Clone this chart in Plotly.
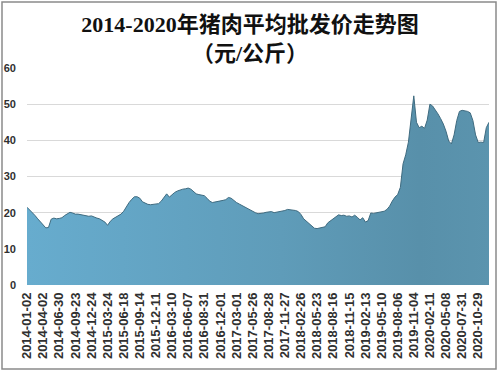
import plotly.graph_objects as go

# Pork average wholesale price (yuan/kg), sampled every ~10 trading days
prices = [
    21.5, 20.8, 20.0, 19.2, 18.3, 17.5, 16.5, 15.8, 15.9, 18.2,
    18.5, 18.3, 18.4, 18.6, 19.2, 19.6, 20.1, 19.9, 19.6, 19.6,
    19.4, 19.3, 19.2, 19.0, 19.1, 18.7, 18.5, 18.3, 17.9, 17.4,
    16.5, 17.6, 18.3, 18.8, 19.2, 19.6, 20.4, 21.7, 22.8, 23.7,
    24.4, 24.4, 24.0, 23.0, 22.6, 22.3, 22.2, 22.3, 22.4, 22.5,
    23.2, 24.3, 25.2, 24.3, 25.0, 25.6, 26.0, 26.3, 26.5, 26.6,
    26.8, 26.5, 25.9, 25.2, 25.0, 24.9, 24.7, 24.0, 23.2, 22.8,
    22.9, 23.0, 23.2, 23.4, 23.6, 24.2, 24.0, 23.3, 22.8, 22.4,
    22.0, 21.6, 21.0, 20.6, 20.3, 20.0, 19.7, 19.7, 19.9, 20.1,
    20.2, 20.3, 20.0, 20.1, 20.2, 20.4, 20.6, 20.9, 20.8, 20.8,
    20.6, 20.3, 19.5, 18.3, 17.6, 17.0, 16.3, 15.7, 15.6, 15.8,
    15.9, 16.1, 17.2, 17.8, 18.4, 19.0, 19.4, 19.2, 19.3, 19.0,
    19.1, 18.8, 19.3, 18.7, 18.0, 18.6, 17.4, 17.8, 19.9, 19.8,
    20.0, 20.2, 20.3, 20.4, 20.9, 21.8, 23.2, 24.3, 25.0, 27.0,
    33.5, 36.0, 39.5, 45.7, 52.3, 45.0, 43.5, 43.9, 43.3, 45.6,
    50.0, 49.5, 48.5, 47.3, 46.0, 44.5, 42.5, 39.8, 39.0, 41.5,
    45.5, 48.0, 48.3, 48.2, 48.0, 47.6, 45.5, 41.5, 39.4, 39.5,
    39.4, 43.5, 45.0,
]

tick_labels = [
    "2014-01-02", "2014-04-02", "2014-06-30", "2014-09-23", "2014-12-24",
    "2015-03-24", "2015-06-18", "2015-09-14", "2015-12-11", "2016-03-10",
    "2016-06-07", "2016-08-31", "2016-12-01", "2017-03-01", "2017-05-26",
    "2017-08-28", "2017-11-27", "2018-02-26", "2018-05-23", "2018-08-16",
    "2018-11-15", "2019-02-13", "2019-05-10", "2019-08-06", "2019-11-04",
    "2020-02-11", "2020-05-08", "2020-07-31", "2020-10-29",
]
points_per_tick = 6

x_idx = list(range(len(prices)))
tick_pos = [k * points_per_tick for k in range(len(tick_labels))]

fig = go.Figure()
fig.add_trace(go.Scatter(
    x=x_idx, y=prices, mode="lines", fill="tozeroy",
    line=dict(color="#3f6b80", width=1),
    fillgradient=dict(type="horizontal",
                      colorscale=[[0, "#67acce"], [0.55, "#5f9cb9"], [0.85, "#5890aa"], [1, "#5b94ae"]]),
    hoverinfo="skip",
))

L, R, T, B = 27, 489, 68, 285
W, H = 500, 375
pw, ph = R - L, B - T

fig.update_layout(
    width=W, height=H,
    margin=dict(l=L, r=W - R, t=T, b=H - B),
    paper_bgcolor="white", plot_bgcolor="white",
    showlegend=False,
    title=dict(
        text="2014-2020年猪肉平均批发价走势图<br>（元/公斤）",
        x=0.5, xanchor="center", y=1 - 32 / H, yanchor="middle",
        font=dict(family="Liberation Serif, Noto Sans CJK SC", size=22, color="#111111", weight="bold"),
    ),
    xaxis=dict(
        range=[0, len(prices) - 1], tickmode="array", tickvals=tick_pos, ticktext=tick_labels,
        tickangle=-90, showgrid=False, zeroline=False, showline=False, ticks="",
        tickfont=dict(family="Liberation Sans, Arial", size=13, color="#303030", weight="bold"),
        ticklabelstandoff=4, automargin=False,
    ),
    yaxis=dict(
        range=[0, 60], dtick=10, showgrid=True, gridcolor="#d9d9d9", gridwidth=1,
        zeroline=False, showline=False, ticks="",
        tickfont=dict(family="Liberation Sans, Arial", size=11, color="#303030", weight="bold"),
        ticklabelstandoff=10, automargin=False,
    ),
    shapes=[dict(
        type="rect", xref="paper", yref="paper",
        x0=(2 - L) / pw, x1=(496 - L) / pw,
        y0=(B - 369) / ph, y1=(B - 2) / ph,
        line=dict(color="#8a8a8a", width=1.5), fillcolor="rgba(0,0,0,0)", layer="above",
    )],
)

fig.write_html("out.html", config={"displayModeBar": False},
               post_script="document.body.style.margin='0px';")
